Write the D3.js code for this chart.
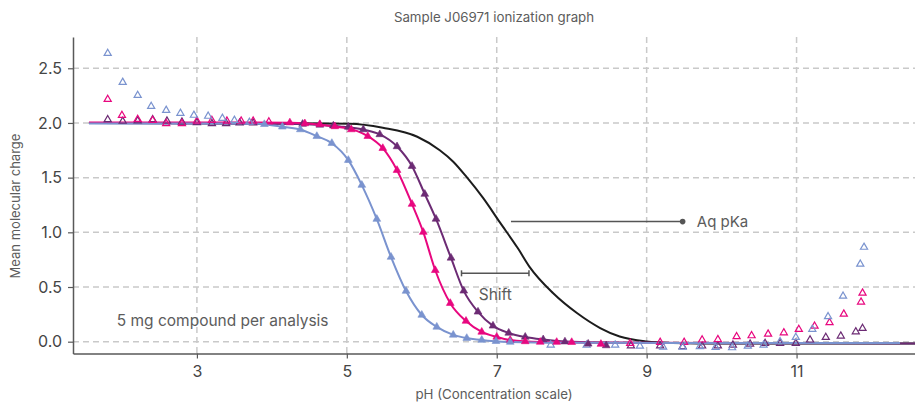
<!DOCTYPE html>
<html><head><meta charset="utf-8">
<script src="https://cdn.jsdelivr.net/npm/d3@7"></script>
<style>
body{margin:0;background:#fff;}
svg{display:block;font-family:Inter,"DejaVu Sans",sans-serif;}
</style>
</head><body>
<svg id="chart" width="915" height="403"></svg>
<script>
// ---------- text ----------
const titleText = "Sample J06971 ionization graph";
const xLabel = "pH (Concentration scale)";
const yLabel = "Mean molecular charge";
const noteText = "5 mg compound per analysis";
const xTicks = [3, 5, 7, 9, 11];
const yTicks = [0, 0.5, 1.0, 1.5, 2.0, 2.5];

// ---------- fitted curves ----------
const blueLinePH  = [1.56, 3.71, 3.90, 4.14, 4.38, 4.60, 4.80, 5.02, 5.20, 5.40, 5.59, 5.79, 6.00, 6.20, 6.42, 6.80, 7.18, 7.84, 9.50, 12.38];
const blueLineVal = [1.996, 1.996, 1.988, 1.965, 1.940, 1.879, 1.815, 1.660, 1.432, 1.121, 0.774, 0.463, 0.244, 0.135, 0.062, 0.015, -0.003, -0.010, -0.012, -0.012];

const pinkLinePH  = [1.56, 4.24, 4.51, 4.80, 5.14, 5.28, 5.48, 5.67, 5.87, 6.02, 6.18, 6.38, 6.59, 6.80, 7.00, 7.18, 7.58, 8.50, 12.38];
const pinkLineVal = [2.005, 2.003, 1.993, 1.970, 1.925, 1.879, 1.769, 1.568, 1.258, 1.002, 0.653, 0.352, 0.189, 0.089, 0.043, 0.015, -0.003, -0.010, -0.012];

const purpleLinePH  = [1.56, 4.38, 4.64, 4.91, 5.24, 5.44, 5.67, 5.87, 6.04, 6.19, 6.39, 6.56, 6.75, 6.95, 7.16, 7.38, 7.62, 7.91, 8.38, 10.0, 12.58];
const purpleLineVal = [2.000, 1.991, 1.982, 1.968, 1.936, 1.895, 1.785, 1.605, 1.350, 1.122, 0.766, 0.465, 0.273, 0.145, 0.080, 0.043, 0.020, 0.002, -0.007, -0.014, -0.016];

const blackLinePH  = [1.56, 4.38, 5.04, 5.48, 5.94, 6.24, 6.42, 6.60, 6.82, 7.04, 7.28, 7.44, 7.75, 8.07, 8.38, 8.64, 9.00, 9.35, 9.71, 12.58];
const blackLineVal = [2.000, 1.997, 1.993, 1.956, 1.874, 1.751, 1.646, 1.504, 1.312, 1.093, 0.856, 0.682, 0.445, 0.262, 0.125, 0.047, 0.002, -0.012, -0.016, -0.016];

// ---------- fitted (filled) points ----------
const blueFitPH  = [3.90, 4.14, 4.38, 4.60, 4.80, 5.02, 5.20, 5.40, 5.59, 5.79, 6.00, 6.20, 6.42, 6.60, 6.80, 6.99, 7.18];
const blueFitVal = [1.988, 1.965, 1.940, 1.879, 1.815, 1.660, 1.432, 1.121, 0.774, 0.463, 0.244, 0.135, 0.062, 0.032, 0.015, 0.004, -0.003];

const pinkFitPH  = [4.24, 4.44, 4.64, 4.84, 5.06, 5.28, 5.48, 5.67, 5.87, 6.02, 6.18, 6.38, 6.59, 6.80, 7.00, 7.18, 7.38, 7.58, 7.80, 8.00, 8.39];
const pinkFitVal = [2.003, 1.995, 1.988, 1.968, 1.940, 1.879, 1.769, 1.568, 1.258, 1.002, 0.653, 0.352, 0.189, 0.089, 0.043, 0.015, 0.002, -0.003, -0.004, -0.005, -0.022];

const purpleFitPH  = [4.41, 4.64, 4.82, 5.02, 5.22, 5.44, 5.67, 5.87, 6.04, 6.19, 6.39, 6.56, 6.75, 6.95, 7.16, 7.38, 7.62, 7.91, 8.22, 8.46];
const purpleFitVal = [1.990, 1.982, 1.975, 1.963, 1.940, 1.895, 1.785, 1.605, 1.350, 1.122, 0.766, 0.465, 0.273, 0.145, 0.080, 0.043, 0.020, 0.000, -0.020, -0.035];

// ---------- measured (hollow) points ----------
const blueRawPH  = [1.81, 2.01, 2.21, 2.39, 2.59, 2.78, 2.96, 3.15, 3.34, 3.50, 3.70,
                    7.72, 8.20, 8.58, 8.91, 9.22, 9.48, 9.71, 9.92, 10.14, 10.35, 10.56, 10.78, 10.99, 11.21, 11.42, 11.62, 11.85, 11.90];
const blueRawVal = [2.637, 2.372, 2.253, 2.152, 2.116, 2.089, 2.071, 2.062, 2.043, 2.025, 2.007,
                    -0.030, -0.030, -0.030, -0.040, -0.050, -0.050, -0.045, -0.052, -0.055, -0.040, -0.030, 0.000, 0.040, 0.114, 0.229, 0.417, 0.709, 0.864];

const pinkRawPH  = [1.81, 2.00, 2.21, 2.41, 2.59, 2.80, 3.00, 3.20, 3.40, 3.59, 3.75, 3.96,
                    8.78, 9.18, 9.50, 9.74, 9.95, 10.20, 10.40, 10.62, 10.83, 11.03, 11.24, 11.44, 11.63, 11.86, 11.88];
const pinkRawVal = [2.216, 2.070, 2.033, 2.024, 1.995, 1.995, 2.018, 2.024, 2.018, 2.018, 2.018, 2.010,
                    -0.015, -0.005, -0.005, 0.016, 0.020, 0.046, 0.055, 0.070, 0.082, 0.113, 0.143, 0.174, 0.253, 0.363, 0.445];

const purpleRawPH  = [1.81, 2.01, 2.21, 2.41, 2.60, 2.80, 3.00, 3.20, 3.39, 3.57, 3.75,
                      8.79, 9.18, 9.48, 9.74, 9.95, 10.15, 10.38, 10.58, 10.78, 10.99, 11.18, 11.39, 11.59, 11.79, 11.88];
const purpleRawVal = [2.031, 2.016, 2.020, 2.031, 2.018, 2.009, 2.003, 1.995, 1.995, 2.000, 2.000,
                      -0.037, -0.037, -0.044, -0.039, -0.037, -0.030, -0.021, -0.016, -0.015, -0.015, 0.016, 0.040, 0.052, 0.091, 0.122];

// ---------- annotations (data units) ----------
const aqPKa = {x1: 7.19, x2: 9.48, y: 1.098, labelX: 9.67, label: "Aq pKa"};
const shift = {x1: 6.53, x2: 7.43, y: 0.625, labelX: 6.76, labelY: 0.38, label: "Shift"};
const note = {x: 1.93, y: 0.14};

// ---------- layout ----------
const W = 915, H = 403;
const margin = {top: 37, right: 0, bottom: 49.5, left: 73};
const colors = {blue: "#7a93cf", pink: "#e8077f", purple: "#6c2b74", black: "#1c1c1c"};
const textGray = "#5c5c5c", axisGray = "#595959", gridGray = "#c9c9c9";

const svg = d3.select("#chart");
const x = d3.scaleLinear().domain([1.347, 12.58]).range([margin.left, W - margin.right]);
const y = d3.scaleLinear().domain([-0.108, 2.786]).range([H - margin.bottom, margin.top]);

// grid
const grid = svg.append("g");
grid.selectAll("line.h").data(yTicks).join("line")
  .attr("x1", margin.left).attr("x2", W - margin.right)
  .attr("y1", d => y(d)).attr("y2", d => y(d))
  .attr("stroke", gridGray).attr("stroke-width", 1.5).attr("stroke-dasharray", "6,4");
grid.selectAll("line.v").data(xTicks).join("line")
  .attr("x1", d => x(d)).attr("x2", d => x(d))
  .attr("y1", margin.top).attr("y2", H - margin.bottom)
  .attr("stroke", gridGray).attr("stroke-width", 1.5).attr("stroke-dasharray", "6,4");

// axes
const xAxis = svg.append("g").attr("transform", `translate(0,${H - margin.bottom})`)
  .call(d3.axisBottom(x).tickValues(xTicks).tickFormat(d3.format("d")).tickSize(5).tickPadding(7).tickSizeOuter(0));
const yAxis = svg.append("g").attr("transform", `translate(${margin.left},0)`)
  .call(d3.axisLeft(y).tickValues(yTicks).tickFormat(d3.format(".1f")).tickSize(5).tickPadding(6).tickSizeOuter(0));
[xAxis, yAxis].forEach(a => {
  a.select(".domain").attr("stroke", axisGray).attr("stroke-width", 1.5);
  a.selectAll(".tick line").attr("stroke", axisGray).attr("stroke-width", 1.2);
  a.selectAll(".tick text").attr("fill", "#454545").attr("font-size", 16)
    .attr("font-family", 'Inter,"DejaVu Sans",sans-serif');
});

// lines
const line = d3.line().x(d => x(d[0])).y(d => y(d[1])).curve(d3.curveMonotoneX);
const zip = (a, b) => a.map((v, i) => [v, b[i]]);
const series = [
  {pts: zip(blackLinePH, blackLineVal), color: colors.black},
  {pts: zip(purpleLinePH, purpleLineVal), color: colors.purple},
  {pts: zip(pinkLinePH, pinkLineVal), color: colors.pink},
  {pts: zip(blueLinePH, blueLineVal), color: colors.blue}
];
svg.append("g").selectAll("path").data(series).join("path")
  .attr("d", d => line(d.pts)).attr("fill", "none")
  .attr("stroke", d => d.color).attr("stroke-width", 2);

// markers
const tri = d3.symbol().type(d3.symbolTriangle);
function hollow(ph, val, color) {
  svg.append("g").selectAll("path").data(zip(ph, val)).join("path")
    .attr("d", tri.size(22)())
    .attr("transform", d => `translate(${x(d[0])},${y(d[1])})`)
    .attr("fill", "none").attr("stroke", color).attr("stroke-width", 1.2);
}
function filled(ph, val, color) {
  svg.append("g").selectAll("path").data(zip(ph, val)).join("path")
    .attr("d", tri.size(26)())
    .attr("transform", d => `translate(${x(d[0])},${y(d[1])})`)
    .attr("fill", color).attr("stroke", color).attr("stroke-width", 0.6);
}
hollow(purpleRawPH, purpleRawVal, colors.purple);
hollow(pinkRawPH, pinkRawVal, colors.pink);
hollow(blueRawPH, blueRawVal, colors.blue);
filled(purpleFitPH, purpleFitVal, colors.purple);
filled(pinkFitPH, pinkFitVal, colors.pink);
filled(blueFitPH, blueFitVal, colors.blue);

// annotations
const ann = svg.append("g");
ann.append("line").attr("x1", x(aqPKa.x1)).attr("x2", x(aqPKa.x2))
  .attr("y1", y(aqPKa.y)).attr("y2", y(aqPKa.y)).attr("stroke", "#555").attr("stroke-width", 1.5);
ann.append("circle").attr("cx", x(aqPKa.x2)).attr("cy", y(aqPKa.y)).attr("r", 2.8).attr("fill", "#555");
ann.append("text").attr("x", x(aqPKa.labelX)).attr("y", y(aqPKa.y)).attr("dy", "0.35em")
  .attr("fill", textGray).attr("font-size", 15).text(aqPKa.label);

ann.append("line").attr("x1", x(shift.x1)).attr("x2", x(shift.x2))
  .attr("y1", y(shift.y)).attr("y2", y(shift.y)).attr("stroke", "#555").attr("stroke-width", 1.5);
[shift.x1, shift.x2].forEach(v => ann.append("line")
  .attr("x1", x(v)).attr("x2", x(v)).attr("y1", y(shift.y) - 3).attr("y2", y(shift.y) + 3)
  .attr("stroke", "#555").attr("stroke-width", 1.5));
ann.append("text").attr("x", x(shift.labelX)).attr("y", y(shift.labelY))
  .attr("fill", textGray).attr("font-size", 15.5).text(shift.label);

ann.append("text").attr("x", x(note.x)).attr("y", y(note.y))
  .attr("fill", textGray).attr("font-size", 15.5).text(noteText);

// titles
svg.append("text").attr("x", (margin.left + W - margin.right) / 2).attr("y", 22)
  .attr("text-anchor", "middle").attr("fill", textGray).attr("font-size", 13.3).text(titleText);
svg.append("text").attr("x", (margin.left + W - margin.right) / 2).attr("y", 399)
  .attr("text-anchor", "middle").attr("fill", textGray).attr("font-size", 13.3).text(xLabel);
svg.append("text").attr("transform", "translate(20,206) rotate(-90)")
  .attr("text-anchor", "middle").attr("fill", textGray).attr("font-size", 13).text(yLabel);
</script>
</body></html>
